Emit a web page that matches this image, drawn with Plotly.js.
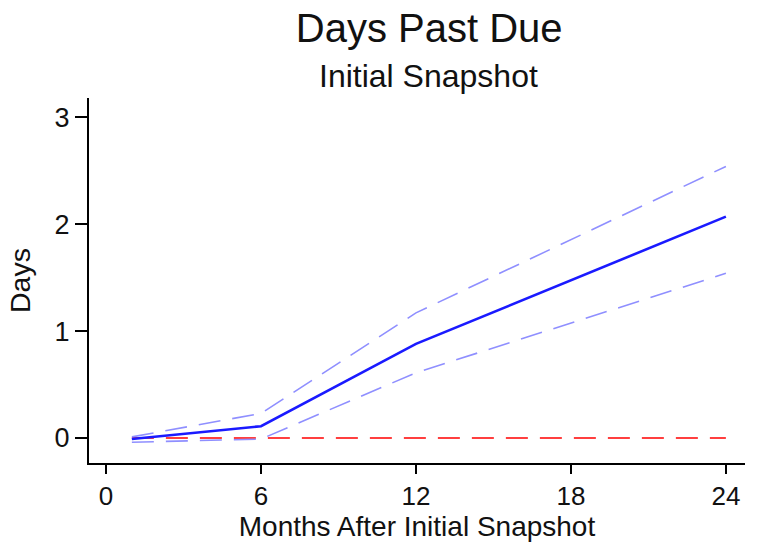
<!DOCTYPE html>
<html>
<head>
<meta charset="utf-8">
<script src="https://cdn.plot.ly/plotly-3.0.1.min.js"></script>
<style>html,body{margin:0;padding:0;background:#fff;}#chart{width:761px;height:543px;}</style>
</head>
<body>
<div id="chart"></div>
<script>
var months = [1, 6, 12, 24];
var estimate = [-0.01, 0.11, 0.88, 2.07];
var upperCI = [0.01, 0.23, 1.17, 2.54];
var lowerCI = [-0.04, -0.01, 0.61, 1.54];
var zeroLine = [0, 0, 0, 0];

var FONT = "Liberation Sans, Arial, Helvetica, sans-serif";

var traces = [
  {x: months, y: zeroLine, mode: 'lines', line: {color: '#ff0000', width: 1.6, dash: '22px,12px'}, hoverinfo: 'skip'},
  {x: months, y: upperCI, mode: 'lines', line: {color: '#8f8fff', width: 1.6, dash: '22px,12px'}},
  {x: months, y: lowerCI, mode: 'lines', line: {color: '#8f8fff', width: 1.6, dash: '22px,12px'}},
  {x: months, y: estimate, mode: 'lines', line: {color: '#1a1aff', width: 2.6}}
];

var layout = {
  width: 761, height: 543,
  margin: {l: 89, r: 16, t: 98, b: 80},
  paper_bgcolor: '#ffffff', plot_bgcolor: '#ffffff',
  showlegend: false,
  font: {family: FONT, color: '#111111'},
  title: {text: 'Days Past Due', font: {family: FONT, size: 40, color: '#111'}, x: 0.564, xanchor: 'center', y: 0.922, yanchor: 'bottom', yref: 'container'},
  annotations: [
    {text: 'Initial Snapshot', xref: 'paper', yref: 'paper', x: 0.518, y: 1.0, yshift: 2, xanchor: 'center', yanchor: 'bottom', showarrow: false, font: {family: FONT, size: 32, color: '#111'}}
  ],
  xaxis: {
    range: [-0.66, 24.74], tickvals: [0, 6, 12, 18, 24], ticktext: ['0', '6', '12', '18', '24'],
    showgrid: false, zeroline: false, showline: true, linecolor: '#000', linewidth: 2,
    ticks: 'outside', ticklen: 9, tickwidth: 2, tickcolor: '#000',
    tickfont: {family: FONT, size: 26, color: '#111'},
    title: {text: 'Months After Initial Snapshot', font: {family: FONT, size: 28, color: '#111'}, standoff: 5}
  },
  yaxis: {
    range: [-0.234, 3.18], tickvals: [0, 1, 2, 3], ticktext: ['0', '1', '2', '3'],
    showgrid: false, zeroline: false, showline: true, linecolor: '#000', linewidth: 2,
    ticks: 'outside', ticklen: 12, tickwidth: 2, tickcolor: '#000',
    tickfont: {family: FONT, size: 27, color: '#111'},
    title: {text: 'Days', font: {family: FONT, size: 28.5, color: '#111'}, standoff: 16}
  }
};

Plotly.newPlot('chart', traces, layout, {displayModeBar: false, staticPlot: true});
</script>
</body>
</html>
